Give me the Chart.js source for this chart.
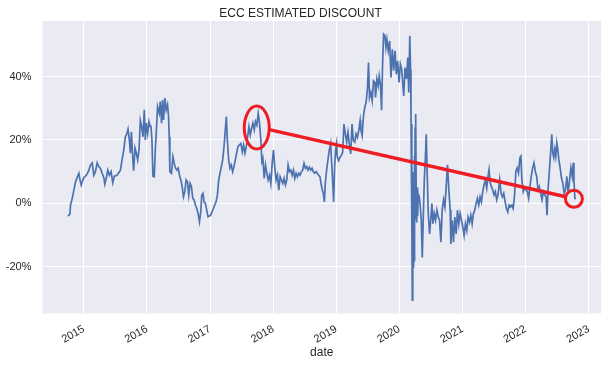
<!DOCTYPE html>
<html>
<head>
<meta charset="utf-8">
<script src="https://cdn.jsdelivr.net/npm/chart.js@4.4.0/dist/chart.umd.min.js"></script>
<style>
    html, body { margin: 0; padding: 0; background: #fff; }
    #wrap { width: 613px; height: 366px; }
</style>
</head>
<body>
<div id="wrap"><canvas id="discountChart" width="613" height="366"></canvas></div>
<script>
// decimal year of each reading
const dates = [
    2014.747, 2014.779, 2014.789, 2014.816, 2014.842, 2014.868, 2014.895, 2014.921, 2014.937, 2014.958,
    2014.974, 2015.0, 2015.026, 2015.053, 2015.079, 2015.105, 2015.132, 2015.158, 2015.184, 2015.211,
    2015.237, 2015.263, 2015.289, 2015.316, 2015.332, 2015.358, 2015.379, 2015.405, 2015.432, 2015.458,
    2015.484, 2015.526, 2015.579, 2015.605, 2015.632, 2015.658, 2015.684, 2015.7, 2015.721, 2015.737,
    2015.753, 2015.774, 2015.789, 2015.811, 2015.832, 2015.853, 2015.874, 2015.895, 2015.916, 2015.937,
    2015.958, 2015.974, 2015.989, 2016.011, 2016.032, 2016.053, 2016.063, 2016.079, 2016.095, 2016.116,
    2016.132, 2016.147, 2016.168, 2016.195, 2016.211, 2016.232, 2016.247, 2016.263, 2016.284, 2016.305,
    2016.326, 2016.342, 2016.353, 2016.363, 2016.389, 2016.411, 2016.432, 2016.453, 2016.474, 2016.495,
    2016.516, 2016.537, 2016.558, 2016.579, 2016.6, 2016.621, 2016.642, 2016.663, 2016.684, 2016.705,
    2016.726, 2016.747, 2016.768, 2016.789, 2016.811, 2016.832, 2016.853, 2016.868, 2016.889, 2016.905,
    2016.926, 2016.947, 2016.968, 2016.989, 2017.011, 2017.032, 2017.053, 2017.074, 2017.095, 2017.116,
    2017.137, 2017.158, 2017.179, 2017.2, 2017.221, 2017.242, 2017.258, 2017.274, 2017.295, 2017.316,
    2017.337, 2017.358, 2017.379, 2017.4, 2017.421, 2017.442, 2017.463, 2017.489, 2017.511, 2017.532,
    2017.553, 2017.574, 2017.595, 2017.616, 2017.637, 2017.658, 2017.679, 2017.7, 2017.721, 2017.742,
    2017.763, 2017.784, 2017.805, 2017.821, 2017.837, 2017.858, 2017.879, 2017.9, 2017.921, 2017.942,
    2017.963, 2017.984, 2018.005, 2018.026, 2018.047, 2018.068, 2018.089, 2018.111, 2018.132, 2018.153,
    2018.174, 2018.195, 2018.216, 2018.237, 2018.258, 2018.279, 2018.3, 2018.321, 2018.342, 2018.363,
    2018.384, 2018.405, 2018.426, 2018.447, 2018.468, 2018.489, 2018.511, 2018.532, 2018.553, 2018.574,
    2018.595, 2018.616, 2018.637, 2018.658, 2018.679, 2018.7, 2018.721, 2018.742, 2018.763, 2018.779,
    2018.795, 2018.811, 2018.826, 2018.847, 2018.868, 2018.889, 2018.911, 2018.926, 2018.942, 2018.958,
    2018.974, 2018.989, 2019.005, 2019.016, 2019.037, 2019.059, 2019.08, 2019.101, 2019.122, 2019.144,
    2019.165, 2019.186, 2019.207, 2019.229, 2019.25, 2019.271, 2019.293, 2019.314, 2019.335, 2019.356,
    2019.378, 2019.388, 2019.41, 2019.431, 2019.452, 2019.473, 2019.495, 2019.511, 2019.527, 2019.548,
    2019.569, 2019.59, 2019.612, 2019.622, 2019.644, 2019.665, 2019.681, 2019.702, 2019.718, 2019.734,
    2019.75, 2019.771, 2019.787, 2019.803, 2019.824, 2019.846, 2019.867, 2019.888, 2019.91, 2019.931,
    2019.952, 2019.973, 2019.995, 2020.016, 2020.037, 2020.053, 2020.069, 2020.09, 2020.112, 2020.133,
    2020.149, 2020.165, 2020.178, 2020.184, 2020.19, 2020.195, 2020.2, 2020.205, 2020.21, 2020.215,
    2020.22, 2020.225, 2020.232, 2020.238, 2020.243, 2020.25, 2020.255, 2020.262, 2020.268, 2020.275,
    2020.282, 2020.29, 2020.298, 2020.316, 2020.332, 2020.347, 2020.363, 2020.379, 2020.395, 2020.411,
    2020.426, 2020.442, 2020.458, 2020.479, 2020.5, 2020.516, 2020.532, 2020.553, 2020.574, 2020.595,
    2020.616, 2020.637, 2020.658, 2020.679, 2020.7, 2020.721, 2020.742, 2020.763, 2020.784, 2020.805,
    2020.816, 2020.837, 2020.858, 2020.879, 2020.9, 2020.921, 2020.942, 2020.963, 2020.984, 2021.005,
    2021.026, 2021.047, 2021.068, 2021.089, 2021.111, 2021.132, 2021.153, 2021.174, 2021.195, 2021.216,
    2021.237, 2021.258, 2021.279, 2021.3, 2021.321, 2021.342, 2021.363, 2021.384, 2021.405, 2021.421,
    2021.437, 2021.458, 2021.479, 2021.5, 2021.521, 2021.542, 2021.563, 2021.59, 2021.612, 2021.633,
    2021.654, 2021.676, 2021.697, 2021.718, 2021.739, 2021.761, 2021.782, 2021.803, 2021.824, 2021.846,
    2021.867, 2021.888, 2021.91, 2021.926, 2021.941, 2021.963, 2021.984, 2022.005, 2022.027, 2022.048,
    2022.069, 2022.09, 2022.112, 2022.133, 2022.154, 2022.176, 2022.197, 2022.218, 2022.239, 2022.261,
    2022.282, 2022.303, 2022.324, 2022.34, 2022.356, 2022.378, 2022.399, 2022.415, 2022.431, 2022.447,
    2022.463, 2022.479, 2022.495, 2022.511, 2022.527, 2022.548, 2022.569, 2022.59, 2022.612, 2022.633,
    2022.654, 2022.676, 2022.697, 2022.718, 2022.739, 2022.755, 2022.766, 2022.782, 2022.793
];

// estimated discount, percent
const discount = [
    -4.0, -3.4, -0.5, 1.6, 4.2, 6.8, 8.2, 9.5, 7.6, 5.8,
    6.8, 8.2, 8.6, 9.3, 10.5, 12.1, 12.8, 8.9, 10, 12.8,
    11.6, 11, 9.5, 8.2, 6.1, 8.2, 10.5, 8.9, 10, 6.5,
    8.6, 8.9, 10.5, 13.7, 16.8, 21, 22.1, 23.4, 20, 15.8,
    22.6, 14.7, 10.3, 17.4, 15.8, 13.7, 16.8, 26.1, 24.2, 21,
    29.5, 20, 25.3, 22.1, 25.8, 24.2, 24.5, 20, 8.6, 8.4,
    16.8, 22, 30.5, 28.4, 32.1, 25.3, 32.6, 26.3, 33.2, 29.5,
    31.1, 27.4, 21, 10, 9.5, 14.7, 12.6, 11.1, 10.5, 11.1,
    8.9, 7.4, 5.3, 2.1, 3.7, 7.4, 6.8, 2.6, 6.3, 5.3,
    1.6, 1.1, -0.5, -1.6, -3.2, -5.8, -2.6, 2.6, 3.2, 0.5,
    0, -2.1, -4.2, -4, -3.7, -2.6, -1.6, -0.5, 0.5, 2.6,
    7.4, 9.5, 11.6, 13.7, 17.9, 23.2, 27.4, 20, 13.7, 11.1,
    12.1, 10, 11.6, 13.7, 15.8, 17.9, 18.4, 18.9, 16.3, 18.4,
    15.8, 17.9, 21, 24.2, 21.6, 23.7, 25.3, 23.2, 25.8, 24.7,
    28.4, 25.3, 20, 13.2, 14.2, 7.9, 12.1, 9.5, 7.4, 8.9,
    6.3, 12.6, 16.8, 11.1, 7.4, 8.9, 4.2, 8.4, 7.4, 6.3,
    7.9, 5.8, 7.4, 12.1, 10, 10.5, 8.9, 10.5, 7.9, 9.5,
    8.4, 9.5, 8.9, 10, 10.5, 12.6, 11.1, 11.6, 10.5, 11.4,
    10.5, 11.1, 10, 9.5, 10, 9.5, 8.9, 8.4, 5.8, 4.2,
    3.2, 0.5, 6.3, 10.5, 13.7, 16.8, 18.9, 13.2, 7.4, 0.5,
    11.6, 16.8, 18.9, 14.6, 13.5, 14.6, 15.1, 16.1, 25, 21.9,
    19.3, 22.4, 18.7, 15.6, 25, 19.8, 19.3, 21.9, 20.8, 22.9,
    26.1, 23.5, 21.4, 27.6, 30.3, 31.8, 36.5, 44.4, 33.4, 35,
    32.4, 38.6, 38.1, 33.4, 39.2, 37.1, 40.2, 37.1, 29.4, 43.9,
    53.3, 52.8, 49.1, 51.7, 48.1, 51.2, 39.7, 48.6, 41.8, 48.1,
    40.7, 44.9, 38.1, 43.9, 42.3, 38.1, 33.9, 42.8, 39.2, 46,
    35, 52.8, 42, 29, 12, 25, -5, -30.5, -12, 10,
    -20, -2, -18, 15, -8, 24, -5, 28.2, 0, -6,
    5, -4, 3, 2.1, -1.1, -5.3, -17, -4.3, 7.4, 13.8,
    21.8, 8.5, -3.2, -9.6, -4.3, 0, -6.4, -3.2, -5.3, -2.1,
    -4.3, -5.3, -12.2, -2.1, 1.1, -1.1, 5.3, 12.2, 4.3, -2.1,
    -12.8, -5.3, -12.2, -4.3, -9.6, -2.1, -6.4, -3.2, -5.3, -7.4,
    -10.1, -6.4, -8.5, -4.3, -5.9, -3.7, -6.4, -3.2, -2.1, 0,
    1.6, -0.5, 2.1, 0.5, 3.7, 5.9, 7.4, 4.8, 8.5, 10.6,
    6.9, 5.3, 4.3, 2.7, 3.7, 1.1, 2.7, 7.4, 3.2, 2.1,
    3.2, 0.5, -1.6, -2.7, -0.5, -1.1, -0.5, -1.6, 2.1, 10.1,
    11.2, 9.6, 14.4, 14.9, 7.4, 3.7, 4.8, 4.3, 3.7, 1.6,
    5.3, 8.5, 11.2, 12.8, 10.1, 8.5, 4.3, 5.3, 3.2, 1.1,
    3.7, 2.7, 2.1, -3.7, 4.3, 10.6, 16.5, 21.8, 16, 14.4,
    17, 14.9, 19.1, 17, 13.8, 11.2, 8, 6.4, 3.2, 4.3,
    8.5, 3.2, 7.4, 11.2, 8.5, 12.8, 7.4, 1.6, 1.3
];

const yearTicks = [2015, 2016, 2017, 2018, 2019, 2020, 2021, 2022, 2023];
const pctTicks = [-20, 0, 20, 40];

// red marks, in data units (year, percent)
const circledPoints = [[2017.74, 23.9], [2022.766, 1.45]];
const arrowFrom = [2017.938, 23.27];
const arrowTo = [2022.637, 2.08];

const textColor = "#262626";
const fontFamily = "'Liberation Sans', Arial, sans-serif";

// matplotlib style 5% margins around the data
const xSpan = dates[dates.length - 1] - dates[0];
const xMin = dates[0] - 0.05 * xSpan;
const xMax = dates[dates.length - 1] + 0.05 * xSpan;
const ySpan = Math.max(...discount) - Math.min(...discount);
const yMin = Math.min(...discount) - 0.05 * ySpan;
const yMax = Math.max(...discount) + 0.05 * ySpan;

const points = dates.map((d, i) => ({ x: d, y: discount[i] }));

const plotBackground = {
    id: "plotBackground",
    beforeDraw(chart) {
        const { ctx, chartArea } = chart;
        ctx.save();
        ctx.fillStyle = "#EAEAF2";
        ctx.fillRect(chartArea.left, chartArea.top, chartArea.right - chartArea.left, chartArea.bottom - chartArea.top);
        ctx.restore();
    }
};

const redMarks = {
    id: "redMarks",
    afterDatasetsDraw(chart) {
        const { ctx } = chart;
        const xs = chart.scales.x;
        const ys = chart.scales.y;
        const radii = [[12.5, 21.5], [8.5, 8.5]];

        ctx.save();
        ctx.strokeStyle = "#ee1d23";
        ctx.lineCap = "butt";

        ctx.lineWidth = 3.5;
        ctx.beginPath();
        ctx.moveTo(xs.getPixelForValue(arrowFrom[0]), ys.getPixelForValue(arrowFrom[1]));
        ctx.lineTo(xs.getPixelForValue(arrowTo[0]), ys.getPixelForValue(arrowTo[1]));
        ctx.stroke();

        ctx.lineWidth = 3;
        circledPoints.forEach((p, i) => {
            ctx.beginPath();
            ctx.ellipse(xs.getPixelForValue(p[0]), ys.getPixelForValue(p[1]), radii[i][0], radii[i][1], 0, 0, Math.PI * 2);
            ctx.stroke();
        });
        ctx.restore();
    }
};

new Chart(document.getElementById("discountChart").getContext("2d"), {
    type: "line",
    data: {
        datasets: [{
            label: "discount",
            data: points,
            borderColor: "#4C72B0",
            borderWidth: 1.7,
            pointRadius: 0,
            tension: 0,
            fill: false
        }]
    },
    options: {
        responsive: false,
        animation: false,
        devicePixelRatio: 1,
        layout: { padding: { left: 0, right: 12, top: 0, bottom: 0 } },
        plugins: {
            legend: { display: false },
            tooltip: { enabled: false },
            title: {
                display: true,
                text: "ECC ESTIMATED DISCOUNT",
                color: textColor,
                font: { family: fontFamily, size: 12, weight: "normal" },
                padding: { top: 6, bottom: 0.6 }
            }
        },
        scales: {
            x: {
                type: "linear",
                min: xMin,
                max: xMax,
                afterBuildTicks: s => { s.ticks = yearTicks.map(v => ({ value: v })); },
                afterFit: s => { s.height = 52.5; },
                ticks: {
                    autoSkip: false,
                    maxRotation: 30,
                    minRotation: 30,
                    padding: 9,
                    color: textColor,
                    font: { family: fontFamily, size: 11 },
                    callback: v => String(v)
                },
                grid: { color: "#ffffff", lineWidth: 1, drawTicks: false },
                border: { display: false },
                title: {
                    display: true,
                    text: "date",
                    color: textColor,
                    font: { family: fontFamily, size: 12 },
                    padding: { top: 0, bottom: 6 }
                }
            },
            y: {
                type: "linear",
                min: yMin,
                max: yMax,
                afterBuildTicks: s => { s.ticks = pctTicks.map(v => ({ value: v })); },
                afterFit: s => { s.width = 42.5; },
                ticks: {
                    padding: 11,
                    color: textColor,
                    font: { family: fontFamily, size: 11 },
                    callback: v => v + "%"
                },
                grid: { color: "#ffffff", lineWidth: 1, drawTicks: false },
                border: { display: false }
            }
        }
    },
    plugins: [plotBackground, redMarks]
});
</script>
</body>
</html>
